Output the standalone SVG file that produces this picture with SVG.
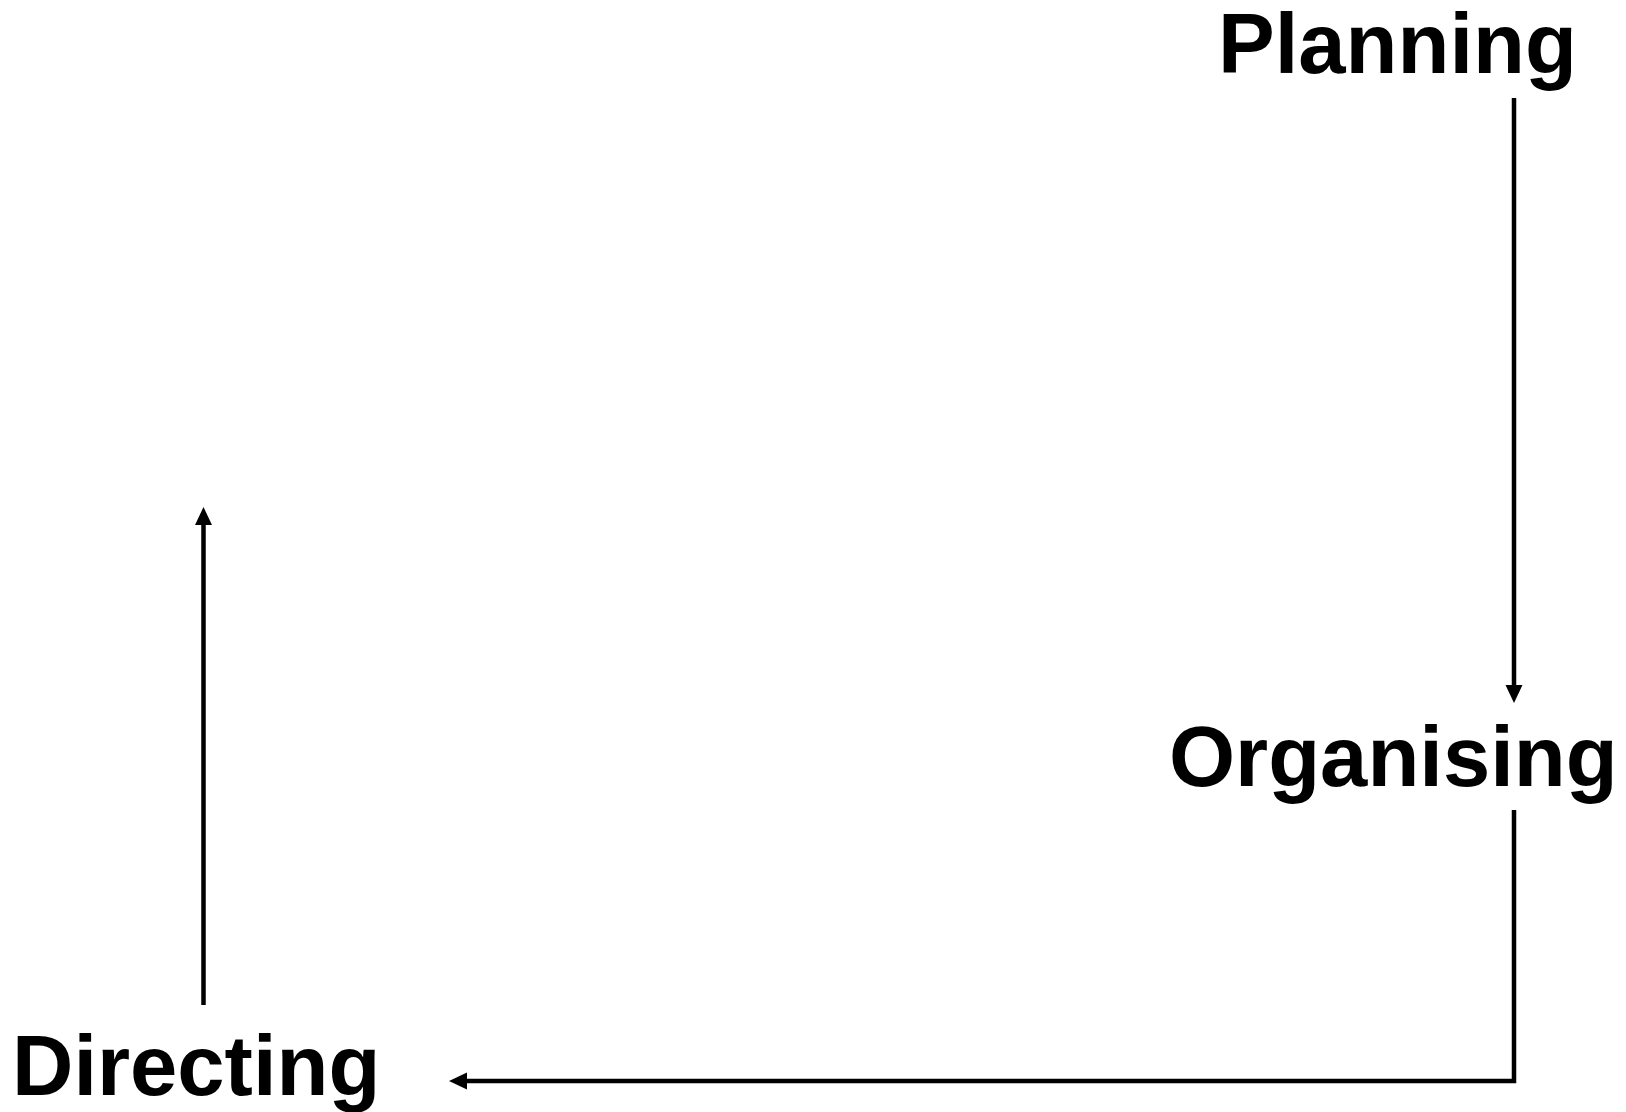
<svg xmlns="http://www.w3.org/2000/svg" width="1626" height="1112" viewBox="0 0 1626 1112">
<style>
.lbl{font-family:"Liberation Sans",Arial,sans-serif;font-weight:bold;font-size:85px;fill:#000}
.con{stroke:#000;stroke-width:4.5;fill:none}
</style>
<defs>
<marker id="ah" markerUnits="userSpaceOnUse" markerWidth="20" markerHeight="20" viewBox="0 -10 20 20" refX="0" refY="0" orient="auto">
<path d="M0,-8.5 L18,0 L0,8.5 z" fill="#000"/>
</marker>
</defs>
<rect width="1626" height="1112" fill="#fff"/>
<g id="connectors">
<path class="con" d="M1514,98 L1514,685" marker-end="url(#ah)"/>
<path class="con" d="M1514,810 L1514,1081 L467,1081" marker-end="url(#ah)"/>
<path class="con" d="M203.5,1005 L203.5,525" marker-end="url(#ah)"/>
</g>
<g id="planning"><text class="lbl" x="1218" y="73">Planning</text></g>
<g id="organising"><text class="lbl" x="1169" y="786">Organising</text></g>
<g id="directing"><text class="lbl" x="12" y="1095">Directing</text></g>
</svg>
